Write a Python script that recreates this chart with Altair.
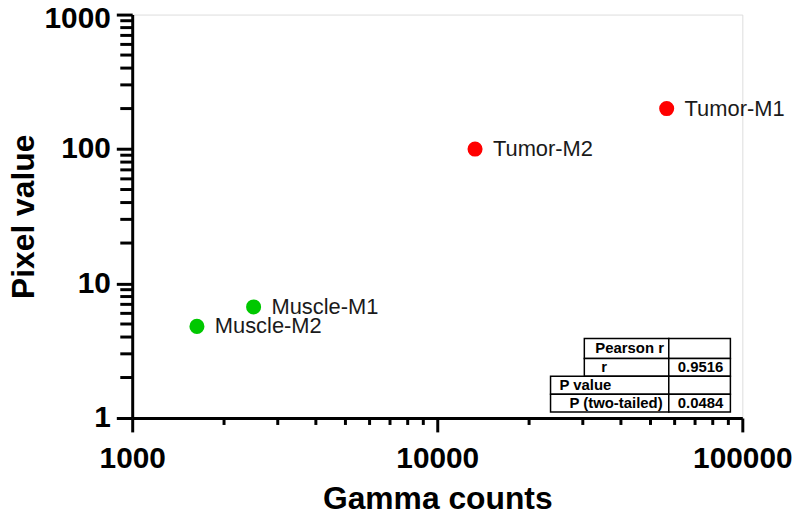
import altair as alt
import pandas as pd

# ---- data ----
names = ["Tumor-M1", "Tumor-M2", "Muscle-M1", "Muscle-M2"]
gamma_counts = [56500, 13300, 2500, 1630]
pixel_values = [200, 100, 6.7, 4.8]
groups = ["Tumor", "Tumor", "Muscle", "Muscle"]

x_major = [1000, 10000, 100000]
x_minor = [2000, 3000, 4000, 5000, 6000, 7000, 8000, 9000,
           20000, 30000, 40000, 50000, 60000, 70000, 80000, 90000]
y_major = [1, 10, 100, 1000]
y_minor = [2, 3, 4, 5, 6, 7, 8, 9, 20, 30, 40, 50, 60, 70, 80, 90,
           200, 300, 400, 500, 600, 700, 800, 900]

table_left_text = ["Pearson r", "r", "P value", "P (two-tailed)"]
table_right_text = ["", "0.9516", "", "0.0484"]

# ---- layout (pixels) ----
W, H = 614, 406
FONT = "Liberation Sans"

pts = pd.DataFrame({"gx": gamma_counts, "py": pixel_values,
                    "name": names, "group": groups})

xs = alt.Scale(type="log", domain=[1000, 100000], nice=False)
ys = alt.Scale(type="log", domain=[1, 1000], nice=False)

x_axis = alt.Axis(values=x_major, format="d", title="Gamma counts",
                  labelFont=FONT, labelFontSize=30, labelFontWeight="bold",
                  labelColor="black", labelPadding=12, labelFlush=False,
                  labelOverlap=False,
                  tickSize=14, tickWidth=3, tickColor="black",
                  domainWidth=3, domainColor="black", grid=False,
                  titleFont=FONT, titleFontSize=32, titleFontWeight="bold",
                  titleColor="black", titleBaseline="alphabetic", titleY=91)
y_axis = alt.Axis(values=y_major, format="d", title="Pixel value",
                  labelFont=FONT, labelFontSize=30, labelFontWeight="bold",
                  labelColor="black", labelPadding=6, labelFlush=False,
                  labelOverlap=False,
                  labelOffset={"condition": {"test": "datum.value == 1000", "value": 4},
                               "value": 0},
                  tickSize=16, tickWidth=3, tickColor="black",
                  domainWidth=3, domainColor="black", grid=False,
                  titleFont=FONT, titleFontSize=32, titleFontWeight="bold",
                  titleColor="black", titleBaseline="alphabetic",
                  titleX=-99, titleAngle=270)

color = alt.Color("group:N", scale=alt.Scale(domain=["Tumor", "Muscle"],
                                             range=["#FF0000", "#00C800"]),
                  legend=None)

points = alt.Chart(pts).mark_circle(size=230, opacity=1).encode(
    x=alt.X("gx:Q", scale=xs, axis=x_axis),
    y=alt.Y("py:Q", scale=ys, axis=y_axis),
    color=color,
)

labels = alt.Chart(pts).mark_text(align="left", baseline="middle", dx=18,
                                  font=FONT, fontSize=22, color="#1a1a1a").encode(
    x=alt.X("gx:Q", scale=xs),
    y=alt.Y("py:Q", scale=ys),
    text="name:N",
)

xminor = alt.Chart(pd.DataFrame({"gx": x_minor})).mark_rule(
    color="black", strokeWidth=3, clip=False).encode(
    x=alt.X("gx:Q", scale=xs),
    y=alt.value(H),
    y2=alt.value(H + 7),
)

yminor = alt.Chart(pd.DataFrame({"py": y_minor})).mark_rule(
    color="black", strokeWidth=3, clip=False).encode(
    y=alt.Y("py:Q", scale=ys),
    x=alt.value(0),
    x2=alt.value(-12),
)

# ---- statistics table (annotation, pixel layout) ----
col_a = [455, 455, 421, 421]
col_b = [540, 540, 540, 540]
col_c = [602, 602, 602, 602]
row_top = [326, 346, 364, 382]
row_bot = [346, 364, 382, 400]
text_x = [466, 472, 430, 440]

cells = []
for i in range(4):
    cells.append({"x": col_a[i], "x2": col_b[i], "y": row_top[i], "y2": row_bot[i]})
    cells.append({"x": col_b[i], "x2": col_c[i], "y": row_top[i], "y2": row_bot[i]})
cells_df = pd.DataFrame(cells)

table_rects = alt.Chart(cells_df).mark_rect(
    fill="white", stroke="black", strokeWidth=1.5, clip=False).encode(
    x=alt.X("x:Q", scale=None), x2="x2:Q",
    y=alt.Y("y:Q", scale=None), y2="y2:Q",
)

ttext = []
for i in range(4):
    yc = (row_top[i] + row_bot[i]) / 2
    ttext.append({"tx": text_x[i], "ty": yc, "t": table_left_text[i]})
    ttext.append({"tx": 549, "ty": yc, "t": table_right_text[i]})
ttext_df = pd.DataFrame(ttext)

table_texts = alt.Chart(ttext_df).mark_text(
    align="left", baseline="middle", font=FONT, fontSize=15,
    fontWeight="bold", color="black", clip=False).encode(
    x=alt.X("tx:Q", scale=None),
    y=alt.Y("ty:Q", scale=None),
    text="t:N",
)

chart = alt.layer(points, labels, xminor, yminor, table_rects, table_texts).properties(
    width=W, height=H,
    autosize=alt.AutoSizeParams(type="none"),
    padding={"left": 125, "top": 5, "right": 50, "bottom": 96},
).configure_view(stroke=None).configure(background="white")

chart.save("out.html", embed_options={"renderer": "svg", "actions": False})
